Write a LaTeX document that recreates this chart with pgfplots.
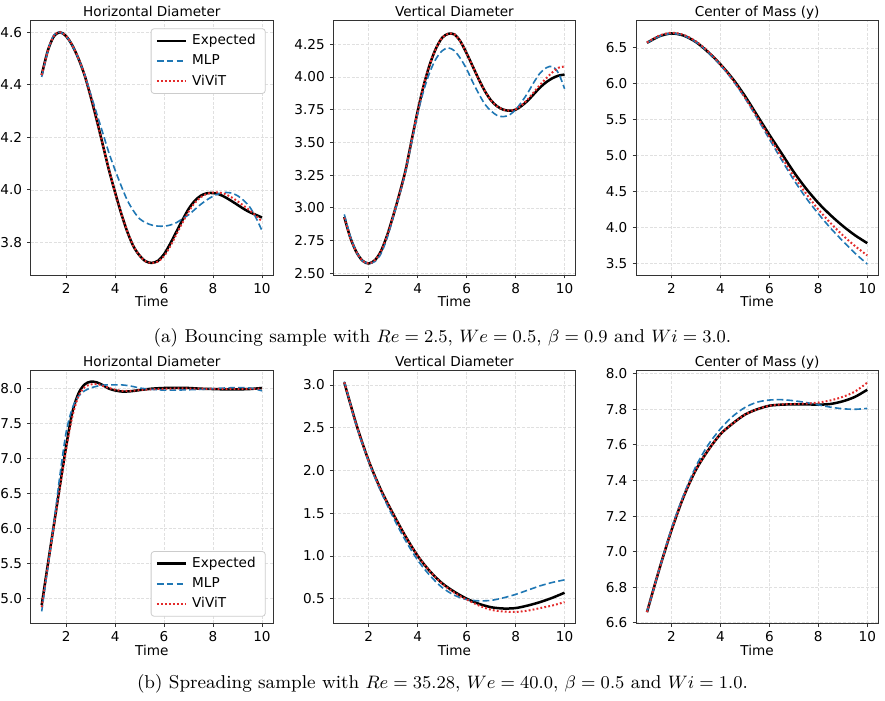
\documentclass[border=0pt]{standalone}
\usepackage{fontspec}
\usepackage{pgfplots}
\usepackage{pgfplotstable}
\pgfplotsset{compat=1.18}
\newfontfamily\dejavu{DejaVu Sans}
\definecolor{mlpblue}{HTML}{1F77B4}
\definecolor{vitred}{HTML}{E32B2B}
\newcommand{\lf}{\dejavu\fontsize{6.8}{8}\selectfont}

\pgfplotstableread{
t exp mlp vit
1.00 4.437 4.430 4.437
1.25 4.530 4.530 4.530
1.50 4.585 4.590 4.587
1.75 4.600 4.600 4.600
2.00 4.585 4.585 4.586
2.25 4.550 4.550 4.551
2.50 4.500 4.500 4.501
2.75 4.437 4.440 4.438
3.00 4.355 4.365 4.356
3.25 4.265 4.290 4.266
3.50 4.170 4.215 4.171
3.75 4.075 4.140 4.076
4.00 3.990 4.075 3.990
4.25 3.910 4.015 3.911
4.50 3.840 3.960 3.841
4.75 3.785 3.920 3.786
5.00 3.750 3.890 3.750
5.25 3.728 3.875 3.728
5.50 3.722 3.866 3.722
5.75 3.730 3.862 3.727
6.00 3.755 3.862 3.748
6.25 3.795 3.866 3.785
6.50 3.840 3.875 3.830
6.75 3.885 3.890 3.875
7.00 3.927 3.905 3.917
7.25 3.958 3.925 3.950
7.50 3.978 3.945 3.972
7.75 3.987 3.962 3.985
8.00 3.988 3.976 3.990
8.25 3.983 3.986 3.990
8.50 3.972 3.990 3.984
8.75 3.958 3.988 3.972
9.00 3.943 3.978 3.957
9.25 3.928 3.960 3.940
9.50 3.915 3.935 3.922
9.75 3.905 3.895 3.902
10.00 3.895 3.845 3.880
}\tA

\pgfplotstableread{
t exp mlp vit
1.00 2.930 2.950 2.925
1.25 2.770 2.780 2.768
1.50 2.660 2.660 2.660
1.75 2.595 2.595 2.595
2.00 2.575 2.575 2.575
2.25 2.600 2.590 2.600
2.50 2.670 2.650 2.670
2.75 2.790 2.770 2.790
3.00 2.940 2.930 2.940
3.25 3.105 3.095 3.105
3.50 3.285 3.275 3.285
3.75 3.515 3.500 3.515
4.00 3.740 3.720 3.740
4.25 3.940 3.900 3.940
4.50 4.100 4.040 4.100
4.75 4.220 4.140 4.220
5.00 4.300 4.200 4.300
5.25 4.330 4.222 4.330
5.50 4.325 4.200 4.325
5.75 4.270 4.140 4.270
6.00 4.180 4.060 4.180
6.25 4.080 3.960 4.080
6.50 3.980 3.870 3.980
6.75 3.890 3.790 3.890
7.00 3.820 3.740 3.820
7.25 3.775 3.705 3.775
7.50 3.750 3.697 3.750
7.75 3.742 3.710 3.743
8.00 3.750 3.750 3.752
8.25 3.780 3.810 3.785
8.50 3.820 3.880 3.830
8.75 3.870 3.960 3.885
9.00 3.920 4.030 3.940
9.25 3.960 4.070 3.990
9.50 3.990 4.080 4.035
9.75 4.010 4.030 4.070
10.00 4.018 3.910 4.080
}\tB

\pgfplotstableread{
t exp mlp vit
1.00 6.570 6.570 6.575
1.50 6.660 6.660 6.670
2.00 6.700 6.700 6.710
2.50 6.670 6.670 6.680
3.00 6.580 6.580 6.590
3.50 6.440 6.440 6.450
4.00 6.270 6.260 6.270
4.50 6.070 6.050 6.060
5.00 5.830 5.800 5.810
5.50 5.560 5.520 5.540
6.00 5.290 5.230 5.260
6.50 5.030 4.940 4.980
7.00 4.770 4.660 4.710
7.50 4.540 4.410 4.470
8.00 4.340 4.190 4.250
8.50 4.170 3.990 4.060
9.00 4.020 3.810 3.890
9.50 3.890 3.640 3.740
10.00 3.780 3.490 3.610
}\tC

\pgfplotstableread{
t exp mlp vit
1.00 4.910 4.820 4.880
1.25 5.490 5.450 5.470
1.50 6.060 6.080 6.040
1.75 6.630 6.780 6.600
2.00 7.180 7.380 7.140
2.25 7.660 7.720 7.600
2.50 7.930 7.890 7.890
2.75 8.060 7.970 8.020
3.00 8.100 8.010 8.060
3.25 8.090 8.035 8.070
3.50 8.050 8.050 8.040
3.75 8.000 8.055 8.010
4.00 7.975 8.055 7.985
4.25 7.960 8.055 7.970
4.50 7.960 8.045 7.968
4.75 7.968 8.030 7.972
5.00 7.980 8.010 7.980
5.50 8.000 7.990 7.990
6.00 8.010 7.980 8.000
6.50 8.012 7.980 8.003
7.00 8.010 7.985 8.003
7.50 8.000 7.990 8.000
8.00 7.995 8.000 7.998
8.50 7.990 8.010 7.996
9.00 7.990 8.015 7.996
9.50 7.995 8.010 7.998
10.00 8.010 7.970 8.000
}\tD

\pgfplotstableread{
t exp mlp vit
1.00 3.030 3.040 3.030
1.50 2.530 2.520 2.530
2.00 2.110 2.100 2.110
2.50 1.770 1.750 1.770
3.00 1.490 1.450 1.490
3.50 1.230 1.180 1.230
4.00 1.000 0.950 1.000
4.50 0.820 0.770 0.820
5.00 0.680 0.630 0.675
5.50 0.580 0.540 0.570
6.00 0.500 0.490 0.490
6.50 0.440 0.475 0.420
7.00 0.400 0.480 0.370
7.50 0.385 0.510 0.350
8.00 0.390 0.550 0.345
8.50 0.420 0.600 0.360
9.00 0.460 0.650 0.390
9.50 0.510 0.690 0.420
10.00 0.570 0.720 0.460
}\tE

\pgfplotstableread{
t exp mlp vit
1.00 6.660 6.660 6.660
1.50 6.900 6.900 6.900
2.00 7.120 7.130 7.120
2.50 7.310 7.320 7.310
3.00 7.460 7.480 7.460
3.50 7.570 7.600 7.570
4.00 7.660 7.690 7.660
4.50 7.720 7.760 7.720
5.00 7.770 7.810 7.770
5.50 7.800 7.840 7.800
6.00 7.820 7.852 7.820
6.50 7.826 7.854 7.827
7.00 7.828 7.848 7.830
7.50 7.828 7.838 7.832
8.00 7.826 7.825 7.838
8.50 7.830 7.812 7.850
9.00 7.845 7.803 7.870
9.50 7.870 7.800 7.900
10.00 7.910 7.805 7.950
}\tF

\pgfplotsset{
  every axis title/.style={at={(0.5,1)}, anchor=base, yshift=1.9pt, font=\lf},
  panel/.style={
    scale only axis, width=121.15pt,
    xmin=0.55, xmax=10.45, xtick={2,4,6,8,10},
    tick align=outside, xtick pos=bottom, ytick pos=left,
    major tick length=1.75pt,
    tick style={black!80, line width=0.4pt},
    axis line style={black!80, line width=0.4pt},
    grid=major,
    grid style={black!12, dash pattern=on 1.5pt off 0.8pt, line width=0.3pt},
    tick label style={font=\lf},
    /pgf/number format/assume math mode=true,
    xticklabel style={anchor=base, yshift=-7.5pt},
    yticklabel style={anchor=east, inner sep=0pt, xshift=-2.35pt},
    xlabel=Time,
    xlabel style={font=\lf, at={(0.5,0)}, anchor=base, yshift=-16pt},
    legend cell align=left,
    legend image code/.code={\draw[##1] (0pt,0pt) -- (14.5pt,0pt);},
    legend style={font=\lf, draw=black!20, line width=0.4pt, rounded corners=1.5pt,
      fill=white, inner xsep=2.3pt, inner ysep=1.5pt, row sep=1.2pt,
      nodes={inner xsep=2.5pt, inner ysep=1.2pt}},
  },
  fy1/.style={/pgf/number format/.cd, fixed, fixed zerofill, precision=1},
  fy2/.style={/pgf/number format/.cd, fixed, fixed zerofill, precision=2},
  expst/.style={black, line width=1.25pt, smooth},
  mlpst/.style={mlpblue, line width=0.8pt, dash pattern=on 3.3pt off 1.6pt, smooth},
  vitst/.style={vitred, line width=1pt, dash pattern=on 0.9pt off 1.1pt, smooth},
}

\begin{document}
\begin{tikzpicture}
\useasboundingbox (0,0) rectangle (442.5pt,350.5pt);

% ---------- row (a) ----------
\begin{axis}[panel, at={(15.35pt,213pt)}, anchor=south west, height=127.15pt,
  ymin=3.676, ymax=4.644, ytick={3.8,4.0,4.2,4.4,4.6}, yticklabel style={fy1},
  title={Horizontal Diameter},
  legend style={at={(1,1)}, anchor=north east, xshift=-3.65pt, yshift=-3.8pt}]
\addplot[expst] table[x=t,y=exp] {\tA};
\addplot[mlpst] table[x=t,y=mlp] {\tA};
\addplot[vitst] table[x=t,y=vit] {\tA};
\legend{Expected, MLP, ViViT}
\end{axis}

\begin{axis}[panel, at={(166.65pt,213pt)}, anchor=south west, height=127.15pt,
  ymin=2.487, ymax=4.43, ytick={2.5,2.75,3.0,3.25,3.5,3.75,4.0,4.25}, yticklabel style={fy2},
  title={Vertical Diameter}]
\addplot[expst] table[x=t,y=exp] {\tB};
\addplot[mlpst] table[x=t,y=mlp] {\tB};
\addplot[vitst] table[x=t,y=vit] {\tB};
\end{axis}

\begin{axis}[panel, at={(318pt,213pt)}, anchor=south west, height=127.15pt,
  ymin=3.337, ymax=6.878, ytick={3.5,4.0,4.5,5.0,5.5,6.0,6.5}, yticklabel style={fy1},
  title={Center of Mass (y)}]
\addplot[expst] table[x=t,y=exp] {\tC};
\addplot[mlpst] table[x=t,y=mlp] {\tC};
\addplot[vitst] table[x=t,y=vit] {\tC};
\end{axis}

\node[anchor=base, font=\fontsize{9.3}{11}\selectfont] at (221.25pt,179.25pt)
  {(a) Bouncing sample with $Re = 2.5$, $We = 0.5$, $\beta = 0.9$ and $Wi = 3.0$.};

% ---------- row (b) ----------
\begin{axis}[panel, at={(15.35pt,38.85pt)}, anchor=south west, height=126.3pt,
  ymin=4.649, ymax=8.257, ytick={5.0,5.5,6.0,6.5,7.0,7.5,8.0}, yticklabel style={fy1},
  title={Horizontal Diameter},
  legend style={at={(1,0)}, anchor=south east, xshift=-3.65pt, yshift=3.3pt}]
\addplot[expst] table[x=t,y=exp] {\tD};
\addplot[mlpst] table[x=t,y=mlp] {\tD};
\addplot[vitst] table[x=t,y=vit] {\tD};
\legend{Expected, MLP, ViViT}
\end{axis}

\begin{axis}[panel, at={(166.65pt,38.85pt)}, anchor=south west, height=126.3pt,
  ymin=0.212, ymax=3.167, ytick={0.5,1.0,1.5,2.0,2.5,3.0}, yticklabel style={fy1},
  title={Vertical Diameter}]
\addplot[expst] table[x=t,y=exp] {\tE};
\addplot[mlpst] table[x=t,y=mlp] {\tE};
\addplot[vitst] table[x=t,y=vit] {\tE};
\end{axis}

\begin{axis}[panel, at={(318pt,38.85pt)}, anchor=south west, height=126.3pt,
  ymin=6.597, ymax=8.017, ytick={6.6,6.8,7.0,7.2,7.4,7.6,7.8,8.0}, yticklabel style={fy1},
  title={Center of Mass (y)}]
\addplot[expst] table[x=t,y=exp] {\tF};
\addplot[mlpst] table[x=t,y=mlp] {\tF};
\addplot[vitst] table[x=t,y=vit] {\tF};
\end{axis}

\node[anchor=base, font=\fontsize{9.3}{11}\selectfont] at (221.25pt,6pt)
  {(b) Spreading sample with $Re = 35.28$, $We = 40.0$, $\beta = 0.5$ and $Wi = 1.0$.};
\end{tikzpicture}
\end{document}
